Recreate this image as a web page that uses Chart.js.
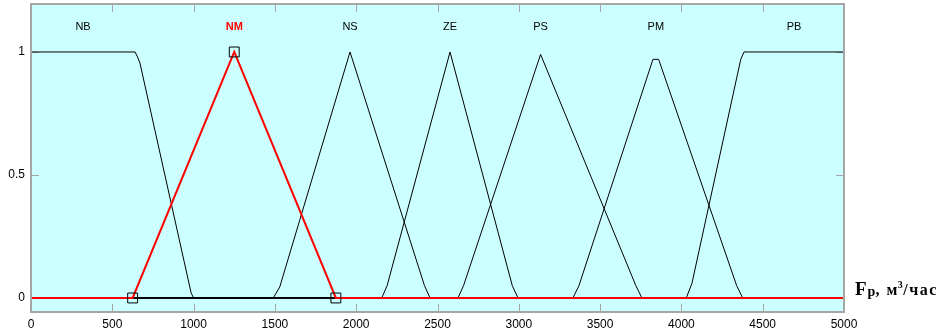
<!DOCTYPE html>
<html>
<head>
<meta charset="utf-8">
<script src="https://cdn.jsdelivr.net/npm/chart.js@4"></script>
<style>
  html, body { margin: 0; padding: 0; background: #fff; }
  #wrap { width: 945px; height: 334px; }
</style>
</head>
<body>
<div id="wrap"><canvas id="grafico" width="945" height="334"></canvas></div>
<script>
// termos linguisticos (funcoes de pertinencia)
const nomes = ['NB', 'NM', 'NS', 'ZE', 'PS', 'PM', 'PB'];

// pontos de cada funcao: x = vazao, mu = grau de pertinencia
const xNB = [0, 640, 655, 670, 985, 1000, 5000];
const muNB = [1, 1, 0.98, 0.955, 0.02, 0, 0];
const xNM = [0, 625, 1250, 1875, 5000];
const muNM = [0, 0, 1, 0, 0];
const xNS = [0, 1490, 1530, 1962, 2420, 2454, 5000];
const muNS = [0, 0, 0.045, 1, 0.05, 0, 0];
const xZE = [0, 2157, 2190, 2577, 2960, 2995, 5000];
const muZE = [0, 0, 0.05, 1, 0.05, 0, 0];
const xPS = [0, 2626, 2660, 3134, 3720, 3757, 5000];
const muPS = [0, 0, 0.05, 0.99, 0.05, 0, 0];
const xPM = [0, 3333, 3370, 3825, 3860, 4340, 4377, 5000];
const muPM = [0, 0, 0.05, 0.97, 0.97, 0.05, 0, 0];
const xPB = [0, 4030, 4065, 4365, 4385, 5000];
const muPB = [0, 0, 0.06, 0.97, 1, 1];

const xTicks = [0, 500, 1000, 1500, 2000, 2500, 3000, 3500, 4000, 4500, 5000];
const yTicks = [0, 0.5, 1];

const series = {NB: [xNB, muNB], NM: [xNM, muNM], NS: [xNS, muNS], ZE: [xZE, muZE],
                PS: [xPS, muPS], PM: [xPM, muPM], PB: [xPB, muPB]};
const selecionado = 'NM';

function pontos(nome) {
    const [xs, mus] = series[nome];
    return xs.map((x, i) => ({x: x, y: mus[i]}));
}

// posicao do rotulo = meio da regiao onde a funcao atinge o maximo
function centro(nome) {
    const [xs, mus] = series[nome];
    const m = Math.max(...mus);
    const xm = xs.filter((x, i) => mus[i] === m);
    return (Math.min(...xm) + Math.max(...xm)) / 2;
}

const FONTE = '"Liberation Sans", Arial, sans-serif';
const FONTE_SERIF = '"Liberation Serif", "Times New Roman", serif';
const COR_EIXO = '#a6a6a6';

const datasets = [selecionado].concat(nomes.filter(n => n !== selecionado)).map(n => {
    const sel = n === selecionado;
    const [xs] = series[n];
    return {
        label: n,
        data: pontos(n),
        borderColor: sel ? '#ff0000' : '#000000',
        borderWidth: sel ? 2 : 1,
        tension: 0,
        pointStyle: 'rect',
        pointRadius: sel ? ctx => (ctx.dataIndex > 0 && ctx.dataIndex < xs.length - 1 ? 7 : 0) : 0,
        pointBorderColor: '#000000',
        pointBorderWidth: 1,
        pointBackgroundColor: 'rgba(0,0,0,0)',
        pointHoverRadius: 0
    };
});

const moldura = {
    id: 'moldura',
    beforeDraw(chart) {
        const a = chart.chartArea, ctx = chart.ctx;
        ctx.save();
        ctx.fillStyle = '#ccffff';
        ctx.fillRect(a.left, a.top, a.right - a.left, a.bottom - a.top);
        ctx.restore();
    },
    beforeDatasetsDraw(chart) {
        const a = chart.chartArea, ctx = chart.ctx;
        const sx = chart.scales.x, sy = chart.scales.y;
        ctx.save();
        ctx.strokeStyle = COR_EIXO;
        ctx.lineWidth = 1;
        ctx.beginPath();
        sx.ticks.forEach(t => {
            const px = Math.round(sx.getPixelForValue(t.value)) + 0.5;
            ctx.moveTo(px, a.bottom); ctx.lineTo(px, a.bottom - 8);
            ctx.moveTo(px, a.top); ctx.lineTo(px, a.top + 8);
        });
        sy.ticks.forEach(t => {
            const py = Math.round(sy.getPixelForValue(t.value)) + 0.5;
            ctx.moveTo(a.left, py); ctx.lineTo(a.left + 8, py);
            ctx.moveTo(a.right, py); ctx.lineTo(a.right - 8, py);
        });
        ctx.stroke();
        ctx.restore();
    },
    afterDatasetsDraw(chart) {
        const a = chart.chartArea, ctx = chart.ctx;
        const sx = chart.scales.x, sy = chart.scales.y;
        ctx.save();
        // rotulos das funcoes
        ctx.textAlign = 'center';
        ctx.textBaseline = 'middle';
        nomes.forEach(n => {
            const sel = n === selecionado;
            ctx.font = (sel ? 'bold ' : '') + '11px ' + FONTE;
            ctx.fillStyle = sel ? '#ff0000' : '#000000';
            ctx.fillText(n, sx.getPixelForValue(centro(n)), sy.getPixelForValue(1.1));
        });
        // caixa
        ctx.strokeStyle = COR_EIXO;
        ctx.lineWidth = 2;
        ctx.strokeRect(a.left, a.top, a.right - a.left, a.bottom - a.top);
        // titulo do eixo x
        let x = a.right + 11;
        const base = 295;
        ctx.textAlign = 'left';
        ctx.textBaseline = 'alphabetic';
        ctx.fillStyle = '#000000';
        ctx.font = 'bold 19px ' + FONTE_SERIF;
        ctx.fillText('F', x, base); x += ctx.measureText('F').width + 1;
        ctx.font = 'bold 14px ' + FONTE_SERIF;
        ctx.fillText('p', x, base + 1); x += ctx.measureText('p').width;
        ctx.letterSpacing = '1.5px';
        ctx.font = 'bold 16px ' + FONTE_SERIF;
        ctx.fillText(', м', x, base); x += ctx.measureText(', м').width - 1;
        ctx.font = 'bold 10px ' + FONTE_SERIF;
        ctx.fillText('3', x, base - 7); x += ctx.measureText('3').width - 1;
        ctx.font = 'bold 16px ' + FONTE_SERIF;
        ctx.fillText('/час', x, base);
        ctx.restore();
    }
};

new Chart(document.getElementById('grafico'), {
    type: 'line',
    data: { datasets: datasets },
    options: {
        responsive: false,
        animation: false,
        events: [],
        layout: { padding: { left: 0, right: 101, top: 4, bottom: 0 } },
        plugins: {
            legend: { display: false },
            tooltip: { enabled: false }
        },
        scales: {
            x: {
                type: 'linear',
                min: 0,
                max: 5000,
                afterBuildTicks: s => { s.ticks = xTicks.map(v => ({value: v})); },
                afterFit: s => { s.height = 22; s.paddingLeft = 0; s.paddingRight = 0; },
                grid: { display: false, drawTicks: false },
                border: { display: false },
                ticks: {
                    autoSkip: false, maxRotation: 0, padding: 5,
                    color: '#000000', font: { family: FONTE, size: 12 },
                    callback: v => String(v)
                }
            },
            y: {
                type: 'linear',
                min: -0.057,
                max: 1.195,
                afterBuildTicks: s => { s.ticks = yTicks.map(v => ({value: v})); },
                afterFit: s => { s.width = 31; s.paddingTop = 0; s.paddingBottom = 0; },
                grid: { display: false, drawTicks: false },
                border: { display: false },
                ticks: {
                    padding: 6,
                    color: '#000000', font: { family: FONTE, size: 12 },
                    callback: v => String(v)
                }
            }
        }
    },
    plugins: [moldura]
});
</script>
</body>
</html>
